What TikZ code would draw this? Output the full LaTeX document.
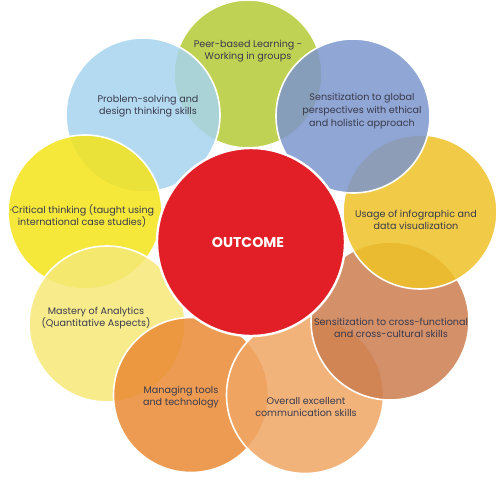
\documentclass[tikz,border=0pt]{standalone}
\usepackage{fontspec}
\setmainfont{Poppins}
\begin{document}
\begin{tikzpicture}[x=1pt,y=-1pt,
  petal/.style={circle,draw=white,line width=1.6pt,fill opacity=0.85,minimum size=#1,inner sep=0pt},
  lbl/.style={align=center,font=\fontsize{9.6}{12.6}\selectfont,text=ctext},
]
\definecolor{ctext}{RGB}{58,58,76}
\definecolor{cgreen}{RGB}{181,202,53}
\definecolor{cblue}{RGB}{166,212,238}
\definecolor{cpurple}{RGB}{124,150,204}
\definecolor{cgold}{RGB}{238,194,40}
\definecolor{cbrown}{RGB}{204,124,78}
\definecolor{cpeach}{RGB}{240,166,100}
\definecolor{corange}{RGB}{234,138,52}
\definecolor{clyellow}{RGB}{246,232,120}
\definecolor{cyellow}{RGB}{245,228,24}
\definecolor{cred}{RGB}{226,30,38}
\useasboundingbox (0,0) rectangle (498,484);
\node[petal=148pt,fill=cgreen] (g) at (248,74) {};
\node[petal=154pt,fill=cblue] (b) at (143,115) {};
\node[petal=154pt,fill=cyellow] (y) at (85,212) {};
\node[petal=156pt,fill=clyellow] (ly) at (107,324) {};
\node[petal=155pt,fill=corange] (o) at (191,395) {};
\node[petal=157pt,fill=cpeach] (pe) at (305,395) {};
\node[petal=158pt,fill=cbrown] (br) at (390,321) {};
\node[petal=154pt,fill=cgold] (go) at (420,212) {};
\node[petal=154pt,fill=cpurple] (pu) at (353,116) {};
\node[circle,draw=white,line width=2.4pt,fill=cred,minimum size=188pt,inner sep=0pt] (r) at (251,242) {};
\node[text=white,font=\bfseries\fontsize{14.2}{16}\selectfont] (t0) at (248,242) {OUTCOME};
\node[lbl] (t1) at (248,51) {Peer-based Learning -\\Working in groups};
\node[lbl] (t2) at (148,106) {Problem-solving and\\design thinking skills};
\node[lbl] (t3) at (362,111) {Sensitization to global\\perspectives with ethical\\and holistic approach};
\node[lbl] (t4) at (82,216) {·Critical thinking (taught using\\international case studies)};
\node[lbl] (t5) at (416,220) {Usage of infographic and\\data visualization};
\node[lbl] (t6) at (96,318) {Mastery of Analytics\\(Quantitative Aspects)};
\node[lbl] (t7) at (391,328) {Sensitization to cross-functional\\and cross-cultural skills};
\node[lbl] (t8) at (181,397) {Managing tools\\and technology};
\node[lbl] (t9) at (306,407) {Overall excellent\\communication skills};
\end{tikzpicture}
\end{document}
